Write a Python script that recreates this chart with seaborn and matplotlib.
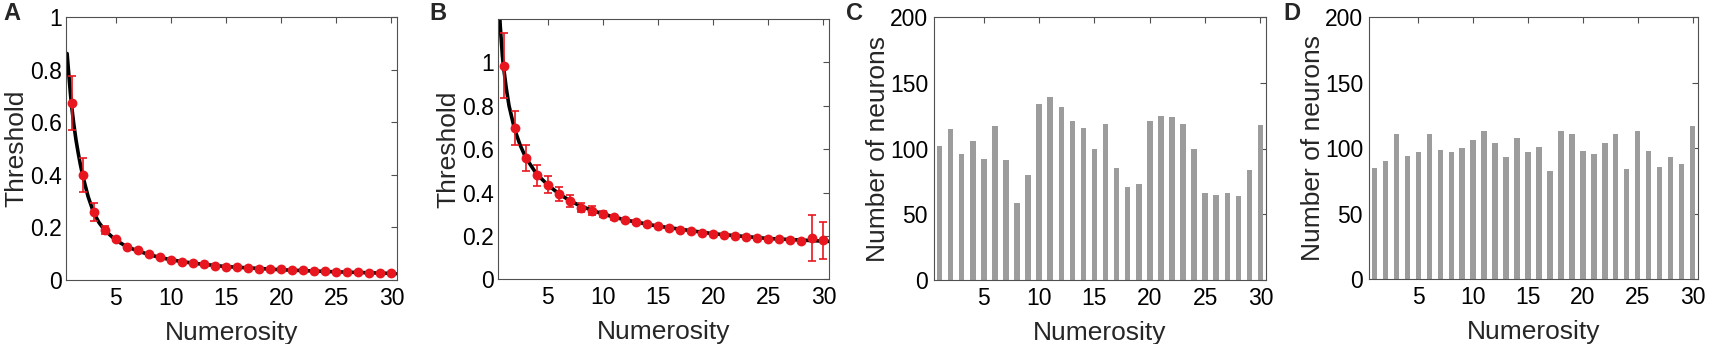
import numpy as np
import pandas as pd
import matplotlib
matplotlib.use("Agg")
import matplotlib.pyplot as plt
import seaborn as sns

# ---------------- data ----------------
numerosity = list(range(1, 31))

# Panel A: thresholds (mean +/- error)
thr_a = [0.675, 0.400, 0.259, 0.190, 0.155, 0.126, 0.113, 0.098, 0.086, 0.077,
         0.070, 0.064, 0.060, 0.055, 0.051, 0.048, 0.046, 0.043, 0.042, 0.040,
         0.038, 0.037, 0.035, 0.034, 0.032, 0.031, 0.029, 0.028, 0.027, 0.025]
err_a = [0.103, 0.065, 0.033, 0.014, 0.008, 0.005, 0.004, 0.004, 0.003, 0.003,
         0.003, 0.003, 0.003, 0.003, 0.003, 0.003, 0.003, 0.003, 0.003, 0.003,
         0.003, 0.003, 0.003, 0.003, 0.003, 0.003, 0.003, 0.003, 0.003, 0.003]
fit_a_x = [0.6, 0.7, 0.8, 0.9, 1.0, 1.2, 1.4, 1.6, 1.8, 2.0, 2.5, 3.0, 3.5, 4.0,
           5.0, 6.0, 7.0, 8.0, 9.0, 10.0, 12.0, 15.0, 20.0, 25.0, 30.0, 30.4]
fit_a_y = [0.862, 0.810, 0.760, 0.711, 0.666, 0.595, 0.535, 0.485, 0.440, 0.400,
           0.318, 0.257, 0.218, 0.190, 0.152, 0.127, 0.111, 0.097, 0.086, 0.077,
           0.064, 0.051, 0.039, 0.031, 0.025, 0.024]

# Panel B
thr_b = [0.985, 0.697, 0.559, 0.480, 0.437, 0.393, 0.360, 0.330, 0.316, 0.302,
         0.285, 0.273, 0.265, 0.253, 0.245, 0.235, 0.227, 0.222, 0.215, 0.209,
         0.206, 0.200, 0.195, 0.192, 0.187, 0.184, 0.181, 0.178, 0.190, 0.180]
err_b = [0.150, 0.079, 0.059, 0.049, 0.040, 0.033, 0.027, 0.022, 0.020, 0.015,
         0.011, 0.010, 0.008, 0.006, 0.005, 0.005, 0.004, 0.004, 0.004, 0.004,
         0.004, 0.004, 0.004, 0.004, 0.004, 0.004, 0.004, 0.004, 0.106, 0.085]
fit_b_x = [0.55, 0.6, 0.7, 0.8, 0.9, 1.0, 1.25, 1.5, 2.0, 2.5, 3.0, 4.0, 5.0, 6.0,
           7.0, 8.0, 10.0, 12.0, 15.0, 20.0, 25.0, 30.0, 30.5]
fit_b_y = [1.33, 1.27, 1.17, 1.10, 1.03, 0.980, 0.880, 0.800, 0.692, 0.620, 0.562,
           0.485, 0.436, 0.395, 0.363, 0.337, 0.301, 0.274, 0.245, 0.210, 0.188,
           0.176, 0.175]

# Panel C / D: number of neurons
neurons_c = [102, 115, 96, 106, 92, 117, 91, 59, 80, 134, 139, 132, 121, 116, 100,
             119, 85, 71, 73, 121, 125, 124, 119, 100, 66, 65, 66, 64, 84, 118]
neurons_d = [85, 90, 111, 94, 97, 111, 99, 97, 100, 106, 113, 104, 93, 108, 97,
             101, 83, 113, 111, 98, 96, 104, 111, 84, 113, 98, 86, 93, 88, 117]

xticks = [5, 10, 15, 20, 25, 30]
thr_ticks = [0, 0.2, 0.4, 0.6, 0.8, 1]
thr_ticklabels = ["0", "0.2", "0.4", "0.6", "0.8", "1"]
count_ticks = [0, 50, 100, 150, 200]
panel_letters = ["A", "B", "C", "D"]

# ---------------- style ----------------
sns.set_theme(style="white")
plt.rcParams["font.family"] = ["Liberation Sans", "DejaVu Sans"]

RED = "#e8161e"
GREY = "#9c9c9c"
SPINE = "#505050"
TICK_FS = 16.5
LABEL_FS = 19

W, H = 1709, 344
fig = plt.figure(figsize=(W / 100, H / 100), dpi=100)

def px_axes(left, right, top, bottom):
    return fig.add_axes([left / W, 1 - bottom / H, (right - left) / W, (bottom - top) / H])

ax_a = px_axes(66, 397, 17.3, 280)
ax_b = px_axes(498, 829, 19, 279.3)
ax_c = px_axes(934, 1266, 17.3, 280)
ax_d = px_axes(1369, 1698, 17.3, 279.3)

def style_axes(ax, ypad):
    for s in ax.spines.values():
        s.set_visible(True)
        s.set_color(SPINE)
        s.set_linewidth(0.8)
    ax.tick_params(direction="in", top=True, right=True, length=4, width=0.8,
                   color=SPINE, labelsize=TICK_FS, labelcolor="black")
    ax.tick_params(axis="x", pad=5)
    ax.tick_params(axis="y", pad=ypad)
    ax.set_xticks(xticks)
    ax.set_xticklabels([str(t) for t in xticks])
    ax.set_xlim(0.5, 30.5)
    ax.grid(False)

# ---- threshold panels ----
for ax, thr, err, fx, fy, ymax in [
    (ax_a, thr_a, err_a, fit_a_x, fit_a_y, 1.0),
    (ax_b, thr_b, err_b, fit_b_x, fit_b_y, 1.2),
]:
    fit_df = pd.DataFrame({"x": fx, "y": fy})
    sns.lineplot(data=fit_df, x="x", y="y", color="black", linewidth=2.6,
                 ax=ax, zorder=2, sort=False)
    ax.errorbar(numerosity, thr, yerr=err, fmt="none", ecolor=RED,
                elinewidth=1.2, capsize=2.6, capthick=1.2, zorder=3)
    pts = pd.DataFrame({"x": numerosity, "y": thr})
    sns.scatterplot(data=pts, x="x", y="y", color=RED, s=50, linewidth=0,
                    ax=ax, zorder=4)
    style_axes(ax, 3)
    ax.set_ylim(0, ymax)
    ax.set_yticks(thr_ticks)
    ax.set_yticklabels(thr_ticklabels)
    ax.set_xlabel("Numerosity", fontsize=LABEL_FS, labelpad=8)
    ax.set_ylabel("Threshold", fontsize=LABEL_FS, labelpad=1)

# ---- neuron count panels ----
for ax, counts in [(ax_c, neurons_c), (ax_d, neurons_d)]:
    df = pd.DataFrame({"x": numerosity, "n": counts})
    sns.barplot(data=df, x="x", y="n", native_scale=True, width=0.5,
                color=GREY, saturation=1, linewidth=0, ax=ax)
    style_axes(ax, 4.3)
    ax.set_ylim(0, 200)
    ax.set_yticks(count_ticks)
    ax.set_yticklabels([str(t) for t in count_ticks])
    ax.set_xlabel("Numerosity", fontsize=LABEL_FS, labelpad=8)
    ax.set_ylabel("Number of neurons", fontsize=LABEL_FS, labelpad=0)

# ---- panel letters ----
letter_x = [3, 429, 846, 1283]
for lx, letter in zip(letter_x, panel_letters):
    fig.text(lx / W, 1 - 20.5 / H, letter, fontsize=17, fontweight="bold",
             ha="left", va="baseline")

fig.savefig("out.png", dpi=100)
